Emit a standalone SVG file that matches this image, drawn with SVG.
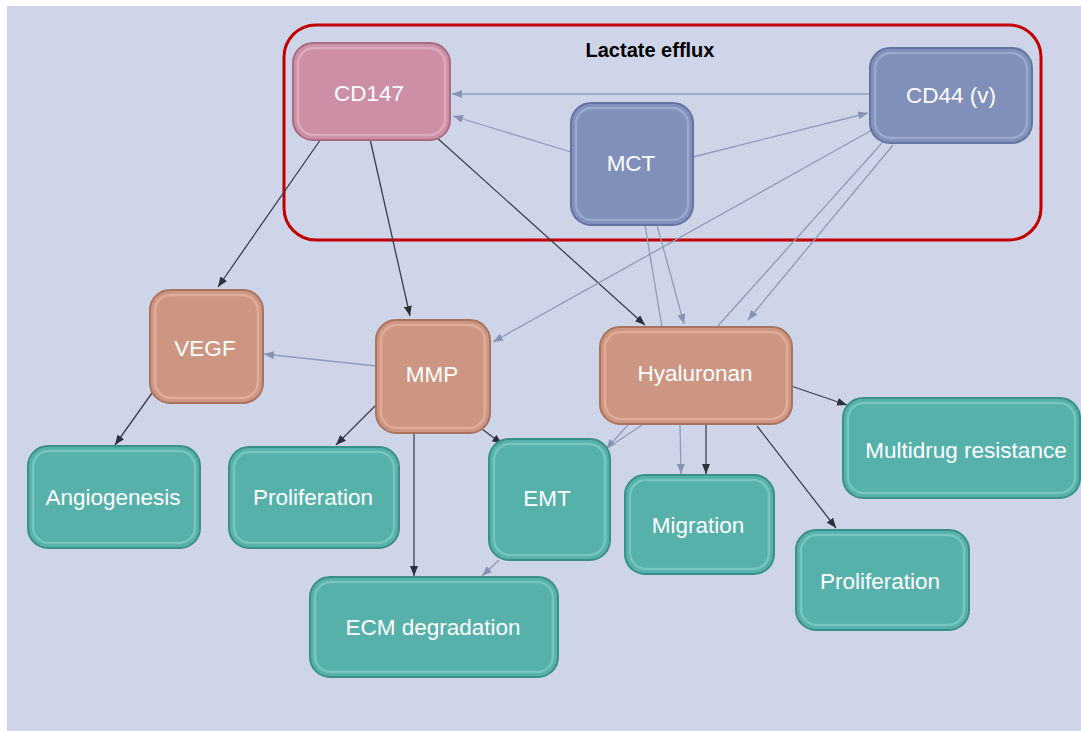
<svg xmlns="http://www.w3.org/2000/svg" width="1081" height="731" viewBox="0 0 1081 731">
<defs>
<style>
.bg{fill:#cfd5e8}
.n{stroke-width:2}
.hl{fill:none;stroke-width:2.5;stroke-opacity:0.7}
.pk{fill:#cd8fa5;stroke:#a66c81}
.pk2{stroke:#e6b4c4}
.bl{fill:#8090ba;stroke:#6474a0}
.bl2{stroke:#a5b2d5}
.sa{fill:#cd9682;stroke:#a8735f}
.sa2{stroke:#e8b5a1}
.te{fill:#56b1ab;stroke:#3a8f89}
.te2{stroke:#84cdc7}
.t{font-family:"Liberation Sans",Arial,sans-serif;font-size:22.5px;fill:#ffffff;text-anchor:middle}
.cap{font-family:"Liberation Sans",Arial,sans-serif;font-size:20px;font-weight:bold;fill:#000000;text-anchor:middle}
.dk{stroke:#3c3f4a;stroke-width:1.3;fill:none;marker-end:url(#ad)}
.dkn{stroke:#3c3f4a;stroke-width:1.3;fill:none}
.lt{stroke:#8f9bb8;stroke-width:1.3;fill:none;marker-end:url(#al)}
.ltn{stroke:#8f9bb8;stroke-width:1.3;fill:none}
</style>
<marker id="ad" viewBox="0 0 10 8" refX="10" refY="4" markerWidth="10" markerHeight="8" markerUnits="userSpaceOnUse" orient="auto"><path d="M0,0 L10,4 L0,8 z" fill="#2e3038"/></marker>
<marker id="al" viewBox="0 0 10 8" refX="10" refY="4" markerWidth="10" markerHeight="8" markerUnits="userSpaceOnUse" orient="auto"><path d="M0,0 L10,4 L0,8 z" fill="#8594b4"/></marker>
</defs>
<rect x="0" y="0" width="1081" height="731" fill="#ffffff"/>
<rect class="bg" x="7" y="6" width="1074" height="725"/>

<g id="group-lactate">
<rect x="284" y="25" width="757" height="215" rx="32" fill="none" stroke="#c00000" stroke-width="3"/>
<text class="cap" x="650" y="57">Lactate efflux</text>
</g>

<g id="connectors">
<line class="dk" x1="323" y1="136" x2="218" y2="287"/>
<line class="dk" x1="370" y1="139" x2="410" y2="316"/>
<line class="dk" x1="435" y1="136" x2="645" y2="325"/>
<line class="lt" x1="870" y1="94" x2="452" y2="94"/>
<line class="lt" x1="571" y1="152" x2="453" y2="116"/>
<line class="lt" x1="693" y1="157" x2="868" y2="113"/>
<line class="lt" x1="872" y1="130" x2="493" y2="342"/>
<line class="ltn" x1="645" y1="225" x2="662" y2="327"/>
<line class="lt" x1="657" y1="225" x2="684" y2="324"/>
<line class="ltn" x1="882" y1="143" x2="717" y2="327"/>
<line class="lt" x1="893" y1="145" x2="748" y2="320"/>
<line class="lt" x1="376" y1="366" x2="264" y2="354"/>
<line class="dk" x1="157" y1="386" x2="115" y2="445"/>
<line class="dk" x1="378" y1="403" x2="336" y2="445"/>
<line class="dk" x1="478" y1="426" x2="502" y2="444"/>
<line class="dk" x1="414" y1="433" x2="414" y2="576"/>
<line class="lt" x1="499" y1="560" x2="482" y2="576"/>
<line class="lt" x1="628" y1="425" x2="606" y2="449"/>
<line class="ltn" x1="642" y1="425" x2="609" y2="447"/>
<line class="lt" x1="680" y1="424" x2="681" y2="474"/>
<line class="dk" x1="706" y1="424" x2="706" y2="474"/>
<line class="dk" x1="791" y1="386" x2="847" y2="405"/>
<line class="dk" x1="757" y1="426" x2="836" y2="528"/>
</g>

<g id="node-cd147">
<rect class="n pk" x="293" y="43" width="157" height="97" rx="20"/>
<rect class="hl pk2" x="298" y="48" width="147" height="87" rx="16"/>
<text class="t" x="369" y="101">CD147</text>
</g>
<g id="node-mct">
<rect class="n bl" x="571" y="103" width="122" height="122" rx="20"/>
<rect class="hl bl2" x="576" y="108" width="112" height="112" rx="16"/>
<text class="t" x="631" y="171">MCT</text>
</g>
<g id="node-cd44">
<rect class="n bl" x="870" y="48" width="162" height="95" rx="20"/>
<rect class="hl bl2" x="875" y="53" width="152" height="85" rx="16"/>
<text class="t" x="951" y="103">CD44 (v)</text>
</g>
<g id="node-vegf">
<rect class="n sa" x="150" y="290" width="113" height="113" rx="20"/>
<rect class="hl sa2" x="155" y="295" width="103" height="103" rx="16"/>
<text class="t" x="205" y="356">VEGF</text>
</g>
<g id="node-mmp">
<rect class="n sa" x="376" y="320" width="114" height="113" rx="20"/>
<rect class="hl sa2" x="381" y="325" width="104" height="103" rx="16"/>
<text class="t" x="432" y="382">MMP</text>
</g>
<g id="node-hyaluronan">
<rect class="n sa" x="600" y="327" width="192" height="97" rx="20"/>
<rect class="hl sa2" x="605" y="332" width="182" height="87" rx="16"/>
<text class="t" x="695" y="381">Hyaluronan</text>
</g>
<g id="node-angiogenesis">
<rect class="n te" x="28" y="446" width="172" height="102" rx="20"/>
<rect class="hl te2" x="33" y="451" width="162" height="92" rx="16"/>
<text class="t" x="113" y="505">Angiogenesis</text>
</g>
<g id="node-proliferation-1">
<rect class="n te" x="229" y="447" width="170" height="101" rx="20"/>
<rect class="hl te2" x="234" y="452" width="160" height="91" rx="16"/>
<text class="t" x="313" y="505">Proliferation</text>
</g>
<g id="node-emt">
<rect class="n te" x="489" y="439" width="121" height="121" rx="20"/>
<rect class="hl te2" x="494" y="444" width="111" height="111" rx="16"/>
<text class="t" x="547" y="506">EMT</text>
</g>
<g id="node-migration">
<rect class="n te" x="625" y="475" width="149" height="99" rx="20"/>
<rect class="hl te2" x="630" y="480" width="139" height="89" rx="16"/>
<text class="t" x="698" y="533">Migration</text>
</g>
<g id="node-multidrug">
<rect class="n te" x="843" y="398" width="237" height="100" rx="20"/>
<rect class="hl te2" x="848" y="403" width="227" height="90" rx="16"/>
<text class="t" x="966" y="458">Multidrug resistance</text>
</g>
<g id="node-proliferation-2">
<rect class="n te" x="796" y="530" width="173" height="100" rx="20"/>
<rect class="hl te2" x="801" y="535" width="163" height="90" rx="16"/>
<text class="t" x="880" y="589">Proliferation</text>
</g>
<g id="node-ecm">
<rect class="n te" x="310" y="577" width="248" height="100" rx="20"/>
<rect class="hl te2" x="315" y="582" width="238" height="90" rx="16"/>
<text class="t" x="433" y="635">ECM degradation</text>
</g>
</svg>
